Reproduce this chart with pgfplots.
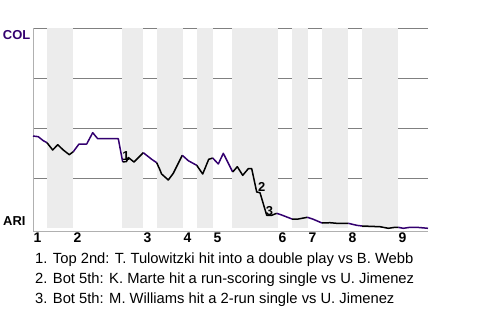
\documentclass[border=0pt]{standalone}
\usepackage{pgfplots}
\pgfplotsset{compat=1.18}
\usepackage{fontspec}
\setmainfont{Liberation Sans}
\definecolor{colpurple}{RGB}{51,0,111}
\definecolor{band}{RGB}{236,236,236}
\definecolor{gridgray}{RGB}{128,128,128}
\definecolor{axgray}{RGB}{176,176,176}
\begin{document}
\begin{tikzpicture}[x=1bp,y=1bp]
\useasboundingbox (0,0) rectangle (480,320);
\begin{axis}[
  at={(33bp,89bp)}, anchor=south west,
  scale only axis, width=395bp, height=202.7bp,
  xmin=0, xmax=395, ymin=-1.35, ymax=100,
  axis x line*=bottom, axis y line*=left,
  axis line style={axgray, line width=0.8bp, -},
  ytick={25,50,75,100}, yticklabels={}, ymajorgrids,
  grid style={gridgray, line width=0.8bp},
  major tick length=0pt,
  xtick={0,40,110,150,180,245,275,315,365},
  xticklabels={1,2,3,4,5,6,7,8,9},
  xticklabel style={anchor=north west, inner sep=0pt, yshift=-1.5bp, xshift=0.5bp, font=\bfseries\fontsize{14}{14}\selectfont},
  clip=false,
  axis on top=false,
]
\fill[band] (axis cs:14,0) rectangle (axis cs:40,100);
\fill[band] (axis cs:89,0) rectangle (axis cs:110,100);
\fill[band] (axis cs:124,0) rectangle (axis cs:150,100);
\fill[band] (axis cs:164,0) rectangle (axis cs:180,100);
\fill[band] (axis cs:199,0) rectangle (axis cs:245,100);
\fill[band] (axis cs:259,0) rectangle (axis cs:275,100);
\fill[band] (axis cs:289,0) rectangle (axis cs:315,100);
\fill[band] (axis cs:329,0) rectangle (axis cs:365,100);
\pgfplotsset{every axis plot/.append style={line width=1.5bp, line join=round, no marks}}
% top halves (purple), bottom halves (black)
\addplot[colpurple] coordinates {(0,46.15) (5.3,45.8) (10.3,43.8) (14,42.8)};
\addplot[black] coordinates {(14,42.8) (19.7,39.15) (24.7,41.8) (30.3,39.15) (36.3,36.8) (40.3,38.3)};
\addplot[colpurple] coordinates {(40.3,38.3) (46,42.15) (53.7,42.15) (59.7,47.8) (64.7,44.8) (85.3,44.8) (89.7,33.15)};
\addplot[black] coordinates {(89.7,33.15) (93.5,33.4) (95.3,35.4) (101,33.15) (110.3,37.8)};
\addplot[colpurple] coordinates {(110.3,37.8) (118.7,34.5) (123.7,32.8)};
\addplot[black] coordinates {(123.7,32.8) (127,29.15) (128.5,27.2) (135.3,24.15) (140.3,27.5) (149.3,36.5)};
\addplot[colpurple] coordinates {(149.3,36.5) (155.3,33.8) (163.7,31.5)};
\addplot[black] coordinates {(163.7,31.5) (169.7,27.15) (175.7,34.5) (179.7,35.15)};
\addplot[colpurple] coordinates {(179.7,35.15) (185.3,32.15) (190.3,37.5) (199.7,28.15)};
\addplot[black] coordinates {(199.7,28.15) (204.3,30.8) (209.7,26.5) (215.3,29.8) (218.7,29.8) (223.7,18.15) (227,17.8) (233.7,6.5) (238.7,6.5) (243.7,7.5)};
\addplot[colpurple] coordinates {(243.7,7.5) (248.7,6.65) (259,4.65)};
\addplot[black] coordinates {(259,4.65) (265.3,4.65) (274.3,5.5)};
\addplot[colpurple] coordinates {(274.3,5.5) (280.3,4.5) (289,2.65)};
\addplot[black] coordinates {(289,2.65) (297,2.8) (303.7,2.5) (315.3,2.5)};
\addplot[colpurple] coordinates {(315.3,2.5) (323.7,1.5) (329,1.15)};
\addplot[black] coordinates {(329,1.15) (347,0.8) (355.3,0) (362,0.5) (365.3,0.5)};
\addplot[colpurple] coordinates {(365.3,0.5) (370.3,0) (377,0.5) (383.7,0.5) (395,0)};
\node[font=\bfseries\fontsize{13}{13}\selectfont, inner sep=0pt] at (axis cs:93,36.15) {1};
\node[font=\bfseries\fontsize{13}{13}\selectfont, inner sep=0pt] at (axis cs:228.7,20.65) {2};
\node[font=\bfseries\fontsize{13}{13}\selectfont, inner sep=0pt] at (axis cs:236.5,8.5) {3};
\end{axis}
\node[anchor=base west, inner sep=0pt, text=colpurple, font=\bfseries\fontsize{13}{13}\selectfont] at (2.7,280.7) {COL};
\node[anchor=base west, inner sep=0pt, font=\bfseries\fontsize{13}{13}\selectfont] at (3,94.7) {ARI};
\node[anchor=base west, inner sep=0pt, font=\fontsize{14.8}{14.8}\selectfont] at (35,56.5) {1. Top 2nd: T. Tulowitzki hit into a double play vs B. Webb};
\node[anchor=base west, inner sep=0pt, font=\fontsize{14.8}{14.8}\selectfont] at (35,36.5) {2. Bot 5th: K. Marte hit a run-scoring single vs U. Jimenez};
\node[anchor=base west, inner sep=0pt, font=\fontsize{14.8}{14.8}\selectfont] at (35,16.5) {3. Bot 5th: M. Williams hit a 2-run single vs U. Jimenez};
\end{tikzpicture}
\end{document}
